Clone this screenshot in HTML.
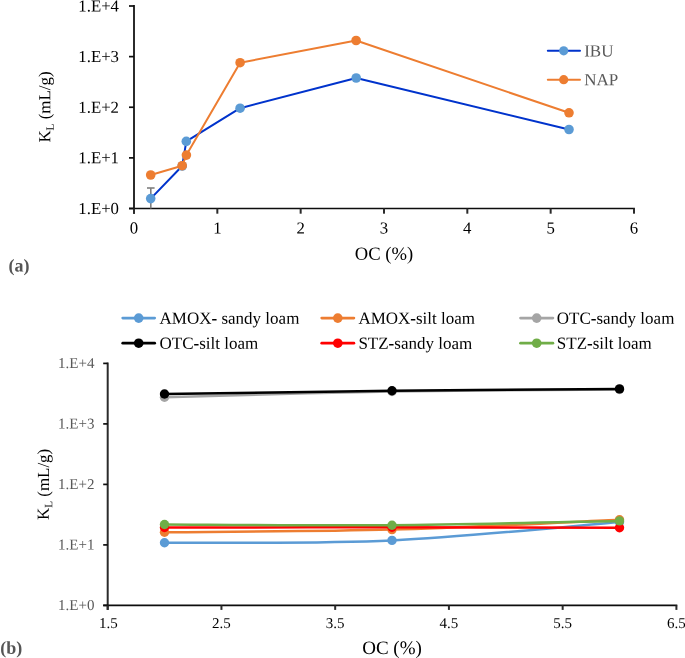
<!DOCTYPE html>
<html><head><meta charset="utf-8"><style>
html,body{margin:0;padding:0;background:#fff;}
svg{display:block;font-family:"Liberation Serif", serif;will-change:transform;}
</style></head><body>
<svg width="685" height="658" viewBox="0 0 685 658">
<rect width="685" height="658" fill="#fff"/>
<line x1="134.0" y1="5.1" x2="134.0" y2="213.7" stroke="#2b2b2b" stroke-width="2.0"/>
<line x1="129.0" y1="208.5" x2="634.88" y2="208.5" stroke="#0d0d0d" stroke-width="1.7"/>
<line x1="129.0" y1="208.50" x2="134.0" y2="208.50" stroke="#0d0d0d" stroke-width="1.7"/>
<text x="119" y="214.00" text-anchor="end" font-size="16.8" fill="#000" transform="rotate(0.05 119 214.00)">1.E+0</text>
<line x1="129.0" y1="157.88" x2="134.0" y2="157.88" stroke="#0d0d0d" stroke-width="1.7"/>
<text x="119" y="163.38" text-anchor="end" font-size="16.8" fill="#000" transform="rotate(0.05 119 163.38)">1.E+1</text>
<line x1="129.0" y1="107.25" x2="134.0" y2="107.25" stroke="#0d0d0d" stroke-width="1.7"/>
<text x="119" y="112.75" text-anchor="end" font-size="16.8" fill="#000" transform="rotate(0.05 119 112.75)">1.E+2</text>
<line x1="129.0" y1="56.62" x2="134.0" y2="56.62" stroke="#0d0d0d" stroke-width="1.7"/>
<text x="119" y="62.12" text-anchor="end" font-size="16.8" fill="#000" transform="rotate(0.05 119 62.12)">1.E+3</text>
<line x1="129.0" y1="6.00" x2="134.0" y2="6.00" stroke="#0d0d0d" stroke-width="1.7"/>
<text x="119" y="11.50" text-anchor="end" font-size="16.8" fill="#000" transform="rotate(0.05 119 11.50)">1.E+4</text>
<line x1="134.00" y1="208.5" x2="134.00" y2="213.7" stroke="#2b2b2b" stroke-width="2.0"/>
<text x="134.00" y="233.6" text-anchor="middle" font-size="16.8" fill="#000" transform="rotate(0.05 134.00 233.6)">0</text>
<line x1="217.33" y1="208.5" x2="217.33" y2="213.7" stroke="#2b2b2b" stroke-width="2.0"/>
<text x="217.33" y="233.6" text-anchor="middle" font-size="16.8" fill="#000" transform="rotate(0.05 217.33 233.6)">1</text>
<line x1="300.66" y1="208.5" x2="300.66" y2="213.7" stroke="#2b2b2b" stroke-width="2.0"/>
<text x="300.66" y="233.6" text-anchor="middle" font-size="16.8" fill="#000" transform="rotate(0.05 300.66 233.6)">2</text>
<line x1="383.99" y1="208.5" x2="383.99" y2="213.7" stroke="#2b2b2b" stroke-width="2.0"/>
<text x="383.99" y="233.6" text-anchor="middle" font-size="16.8" fill="#000" transform="rotate(0.05 383.99 233.6)">3</text>
<line x1="467.32" y1="208.5" x2="467.32" y2="213.7" stroke="#2b2b2b" stroke-width="2.0"/>
<text x="467.32" y="233.6" text-anchor="middle" font-size="16.8" fill="#000" transform="rotate(0.05 467.32 233.6)">4</text>
<line x1="550.65" y1="208.5" x2="550.65" y2="213.7" stroke="#2b2b2b" stroke-width="2.0"/>
<text x="550.65" y="233.6" text-anchor="middle" font-size="16.8" fill="#000" transform="rotate(0.05 550.65 233.6)">5</text>
<line x1="633.98" y1="208.5" x2="633.98" y2="213.7" stroke="#2b2b2b" stroke-width="2.0"/>
<text x="633.98" y="233.6" text-anchor="middle" font-size="16.8" fill="#000" transform="rotate(0.05 633.98 233.6)">6</text>
<g stroke="#7F7F7F" stroke-width="1.6"><line x1="150.8" y1="188" x2="150.8" y2="208.4"/><line x1="147" y1="188" x2="154.6" y2="188"/></g>
<polyline points="150.7,198.6 182.2,166.0 186.3,141.4 240.1,108.2 356.2,78.0 569,129.5" fill="none" stroke="#0033CC" stroke-width="2.0" stroke-linejoin="round"/>
<circle cx="150.7" cy="198.6" r="4.8" fill="#5B9BD5"/>
<circle cx="182.2" cy="166.0" r="4.8" fill="#5B9BD5"/>
<circle cx="186.3" cy="141.4" r="4.8" fill="#5B9BD5"/>
<circle cx="240.1" cy="108.2" r="4.8" fill="#5B9BD5"/>
<circle cx="356.2" cy="78.0" r="4.8" fill="#5B9BD5"/>
<circle cx="569" cy="129.5" r="4.8" fill="#5B9BD5"/>
<polyline points="150.7,175.0 182.2,165.7 186.4,155.1 240.1,62.7 356.1,40.5 569,112.8" fill="none" stroke="#ED7D31" stroke-width="2.0" stroke-linejoin="round"/>
<circle cx="150.7" cy="175.0" r="4.8" fill="#ED7D31"/>
<circle cx="182.2" cy="165.7" r="4.8" fill="#ED7D31"/>
<circle cx="186.4" cy="155.1" r="4.8" fill="#ED7D31"/>
<circle cx="240.1" cy="62.7" r="4.8" fill="#ED7D31"/>
<circle cx="356.1" cy="40.5" r="4.8" fill="#ED7D31"/>
<circle cx="569" cy="112.8" r="4.8" fill="#ED7D31"/>
<line x1="547.8" y1="50.8" x2="580" y2="50.8" stroke="#0033CC" stroke-width="2" stroke-linecap="round"/><circle cx="563.7" cy="50.8" r="4.6" fill="#5B9BD5"/>
<text x="584.2" y="56.4" font-size="17" fill="#595959" transform="rotate(0.05 584.2 56.4)">IBU</text>
<line x1="547.8" y1="79.7" x2="580" y2="79.7" stroke="#ED7D31" stroke-width="2" stroke-linecap="round"/><circle cx="563.7" cy="79.7" r="4.6" fill="#ED7D31"/>
<text x="584.2" y="85.3" font-size="17" fill="#595959" transform="rotate(0.05 584.2 85.3)">NAP</text>
<text transform="translate(50.3,107.0) rotate(-89.95)" text-anchor="middle" font-size="16.9" fill="#000">K<tspan font-size="11.3" dy="3.4">L</tspan><tspan dy="-3.4"> (mL/g)</tspan></text>
<text x="384" y="259.8" text-anchor="middle" font-size="18.6" fill="#000" transform="rotate(0.05 384 259.8)">OC (%)</text>
<text x="8.6" y="271.4" font-size="18" font-weight="bold" fill="#555" transform="rotate(0.05 8.6 271.4)">(a)</text>
<line x1="107.7" y1="362.5" x2="107.7" y2="609.9" stroke="#2b2b2b" stroke-width="2.0"/>
<line x1="103.2" y1="605.4" x2="677.3" y2="605.4" stroke="#0d0d0d" stroke-width="1.7"/>
<line x1="103.2" y1="605.40" x2="107.7" y2="605.40" stroke="#0d0d0d" stroke-width="1.7"/>
<text x="94.4" y="610.00" text-anchor="end" font-size="15" fill="#595959" transform="rotate(0.05 94.4 610.00)">1.E+0</text>
<line x1="103.2" y1="544.90" x2="107.7" y2="544.90" stroke="#0d0d0d" stroke-width="1.7"/>
<text x="94.4" y="549.50" text-anchor="end" font-size="15" fill="#595959" transform="rotate(0.05 94.4 549.50)">1.E+1</text>
<line x1="103.2" y1="484.40" x2="107.7" y2="484.40" stroke="#0d0d0d" stroke-width="1.7"/>
<text x="94.4" y="489.00" text-anchor="end" font-size="15" fill="#595959" transform="rotate(0.05 94.4 489.00)">1.E+2</text>
<line x1="103.2" y1="423.90" x2="107.7" y2="423.90" stroke="#0d0d0d" stroke-width="1.7"/>
<text x="94.4" y="428.50" text-anchor="end" font-size="15" fill="#595959" transform="rotate(0.05 94.4 428.50)">1.E+3</text>
<line x1="103.2" y1="363.40" x2="107.7" y2="363.40" stroke="#0d0d0d" stroke-width="1.7"/>
<text x="94.4" y="368.00" text-anchor="end" font-size="15" fill="#595959" transform="rotate(0.05 94.4 368.00)">1.E+4</text>
<line x1="107.70" y1="605.4" x2="107.70" y2="609.9" stroke="#2b2b2b" stroke-width="2.0"/>
<text x="108.40" y="628.0" text-anchor="middle" font-size="15" fill="#000" transform="rotate(0.05 108.40 628.0)">1.5</text>
<line x1="221.44" y1="605.4" x2="221.44" y2="609.9" stroke="#2b2b2b" stroke-width="2.0"/>
<text x="221.44" y="628.0" text-anchor="middle" font-size="15" fill="#000" transform="rotate(0.05 221.44 628.0)">2.5</text>
<line x1="335.18" y1="605.4" x2="335.18" y2="609.9" stroke="#2b2b2b" stroke-width="2.0"/>
<text x="335.18" y="628.0" text-anchor="middle" font-size="15" fill="#000" transform="rotate(0.05 335.18 628.0)">3.5</text>
<line x1="448.92" y1="605.4" x2="448.92" y2="609.9" stroke="#2b2b2b" stroke-width="2.0"/>
<text x="448.92" y="628.0" text-anchor="middle" font-size="15" fill="#000" transform="rotate(0.05 448.92 628.0)">4.5</text>
<line x1="562.66" y1="605.4" x2="562.66" y2="609.9" stroke="#2b2b2b" stroke-width="2.0"/>
<text x="562.66" y="628.0" text-anchor="middle" font-size="15" fill="#000" transform="rotate(0.05 562.66 628.0)">5.5</text>
<line x1="676.40" y1="605.4" x2="676.40" y2="609.9" stroke="#2b2b2b" stroke-width="2.0"/>
<text x="676.40" y="628.0" text-anchor="middle" font-size="15" fill="#000" transform="rotate(0.05 676.40 628.0)">6.5</text>
<path d="M164.5,542.8 C202.42,542.40 316.17,543.87 392.0,540.4 C467.83,536.93 581.58,525.07 619.5,522.0" fill="none" stroke="#5B9BD5" stroke-width="2.5" stroke-linecap="round" stroke-linejoin="round"/>
<circle cx="164.5" cy="542.8" r="4.7" fill="#5B9BD5"/>
<circle cx="392.0" cy="540.4" r="4.7" fill="#5B9BD5"/>
<circle cx="619.5" cy="522.0" r="4.7" fill="#5B9BD5"/>
<path d="M164.5,532.3 C202.42,531.85 316.17,531.68 392.0,529.6 C467.83,527.52 581.58,521.43 619.5,519.8" fill="none" stroke="#ED7D31" stroke-width="2.5" stroke-linecap="round" stroke-linejoin="round"/>
<circle cx="164.5" cy="532.3" r="4.7" fill="#ED7D31"/>
<circle cx="392.0" cy="529.6" r="4.7" fill="#ED7D31"/>
<circle cx="619.5" cy="519.8" r="4.7" fill="#ED7D31"/>
<path d="M164.5,397.3 C202.42,396.33 316.17,392.80 392.0,391.5 C467.83,390.20 581.58,389.83 619.5,389.5" fill="none" stroke="#A5A5A5" stroke-width="2.5" stroke-linecap="round" stroke-linejoin="round"/>
<circle cx="164.5" cy="397.3" r="4.7" fill="#A5A5A5"/>
<circle cx="392.0" cy="391.5" r="4.7" fill="#A5A5A5"/>
<circle cx="619.5" cy="389.5" r="4.7" fill="#A5A5A5"/>
<path d="M164.5,394.0 C202.42,393.47 316.17,391.65 392.0,390.8 C467.83,389.95 581.58,389.22 619.5,388.9" fill="none" stroke="#000000" stroke-width="2.5" stroke-linecap="round" stroke-linejoin="round"/>
<circle cx="164.5" cy="394.0" r="4.7" fill="#000000"/>
<circle cx="392.0" cy="390.8" r="4.7" fill="#000000"/>
<circle cx="619.5" cy="388.9" r="4.7" fill="#000000"/>
<path d="M164.5,527.5 C202.42,527.47 316.17,527.27 392.0,527.3 C467.83,527.33 581.58,527.63 619.5,527.7" fill="none" stroke="#FF0000" stroke-width="2.5" stroke-linecap="round" stroke-linejoin="round"/>
<circle cx="164.5" cy="527.5" r="4.7" fill="#FF0000"/>
<circle cx="392.0" cy="527.3" r="4.7" fill="#FF0000"/>
<circle cx="619.5" cy="527.7" r="4.7" fill="#FF0000"/>
<path d="M164.5,524.5 C202.42,524.62 316.17,525.80 392.0,525.2 C467.83,524.60 581.58,521.62 619.5,520.9" fill="none" stroke="#70AD47" stroke-width="2.5" stroke-linecap="round" stroke-linejoin="round"/>
<circle cx="164.5" cy="524.5" r="4.7" fill="#70AD47"/>
<circle cx="392.0" cy="525.2" r="4.7" fill="#70AD47"/>
<circle cx="619.5" cy="520.9" r="4.7" fill="#70AD47"/>
<line x1="122.7" y1="318.1" x2="154.7" y2="318.1" stroke="#5B9BD5" stroke-width="2.7" stroke-linecap="round"/><circle cx="138.7" cy="318.1" r="4.8" fill="#5B9BD5"/>
<text x="159.6" y="323.70" font-size="17" fill="#000" transform="rotate(0.05 159.6 323.70)">AMOX- sandy loam</text>
<line x1="321.7" y1="318.1" x2="353.9" y2="318.1" stroke="#ED7D31" stroke-width="2.7" stroke-linecap="round"/><circle cx="337.8" cy="318.1" r="4.8" fill="#ED7D31"/>
<text x="358.4" y="323.70" font-size="17" fill="#000" transform="rotate(0.05 358.4 323.70)">AMOX-silt loam</text>
<line x1="520.5" y1="318.1" x2="552.9" y2="318.1" stroke="#A5A5A5" stroke-width="2.7" stroke-linecap="round"/><circle cx="536.7" cy="318.1" r="4.8" fill="#A5A5A5"/>
<text x="556.8" y="323.70" font-size="17" fill="#000" transform="rotate(0.05 556.8 323.70)">OTC-sandy loam</text>
<line x1="122.7" y1="343.2" x2="154.7" y2="343.2" stroke="#000000" stroke-width="2.7" stroke-linecap="round"/><circle cx="138.7" cy="343.2" r="4.8" fill="#000000"/>
<text x="159.6" y="348.80" font-size="17" fill="#000" transform="rotate(0.05 159.6 348.80)">OTC-silt loam</text>
<line x1="321.7" y1="343.2" x2="353.9" y2="343.2" stroke="#FF0000" stroke-width="2.7" stroke-linecap="round"/><circle cx="337.8" cy="343.2" r="4.8" fill="#FF0000"/>
<text x="358.4" y="348.80" font-size="17" fill="#000" transform="rotate(0.05 358.4 348.80)">STZ-sandy loam</text>
<line x1="520.5" y1="343.2" x2="552.9" y2="343.2" stroke="#70AD47" stroke-width="2.7" stroke-linecap="round"/><circle cx="536.7" cy="343.2" r="4.8" fill="#70AD47"/>
<text x="556.8" y="348.80" font-size="17" fill="#000" transform="rotate(0.05 556.8 348.80)">STZ-silt loam</text>
<text transform="translate(48.9,484.4) rotate(-89.95)" text-anchor="middle" font-size="16.9" fill="#000">K<tspan font-size="11.3" dy="3.4">L</tspan><tspan dy="-3.4"> (mL/g)</tspan></text>
<text x="392" y="654" text-anchor="middle" font-size="19" fill="#000" transform="rotate(0.05 392 654)">OC (%)</text>
<text x="0.3" y="653.7" font-size="18" font-weight="bold" fill="#555" transform="rotate(0.05 0.3 653.7)">(b)</text>
</svg>
</body></html>
